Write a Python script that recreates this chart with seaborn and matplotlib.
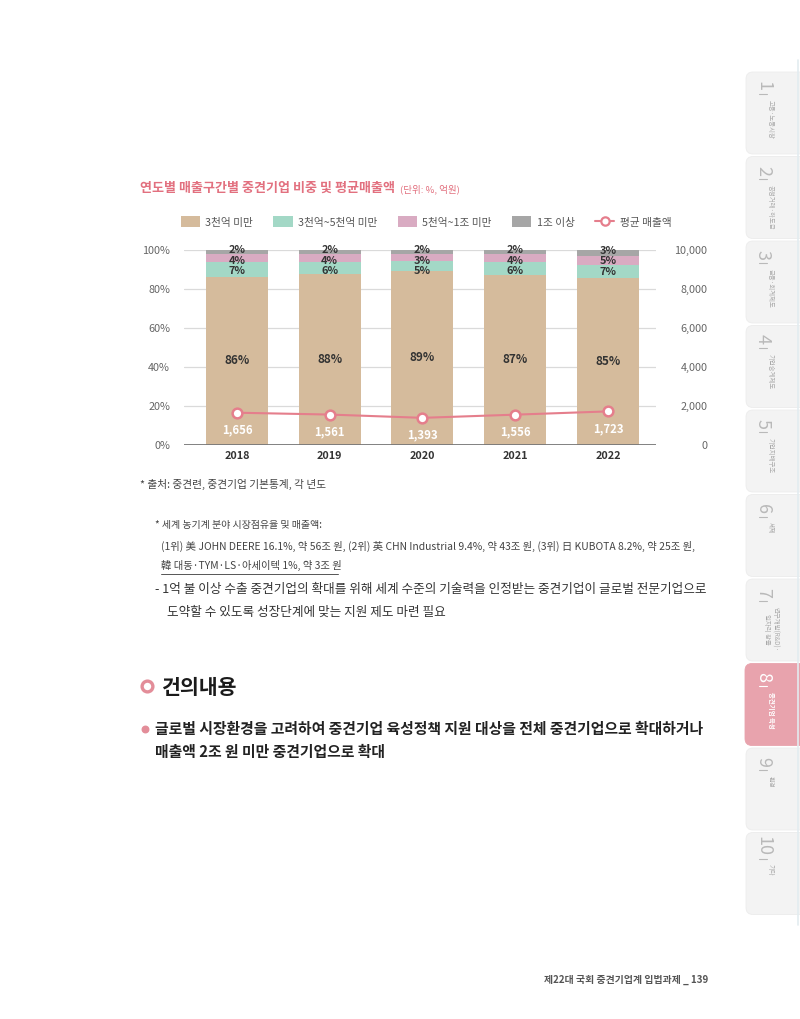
import numpy as np
import matplotlib
matplotlib.use("Agg")
import matplotlib.pyplot as plt
from matplotlib.patches import Patch, FancyBboxPatch
from matplotlib.lines import Line2D
import seaborn as sns

sns.set_style("white")
plt.rcParams["font.family"] = ["Noto Sans CJK KR", "DejaVu Sans"]

# %% data
years = ["2018", "2019", "2020", "2021", "2022"]
under_300 = [86.4, 87.9, 89.3, 87.3, 85.4]      # 3천억 미만
from_300_500 = [7.2, 6.2, 5.2, 6.4, 6.9]        # 3천억~5천억 미만
from_500_1000 = [4.3, 3.9, 3.4, 4.1, 4.8]       # 5천억~1조 미만
over_1000 = [2.1, 2.0, 2.1, 2.2, 2.9]           # 1조 이상
avg_sales = [1656, 1561, 1393, 1556, 1723]      # 평균 매출액 (억원)

series_names = ["3천억 미만", "3천억~5천억 미만", "5천억~1조 미만", "1조 이상"]
line_name = "평균 매출액"
pct_ticks = [0, 20, 40, 60, 80, 100]
sales_ticks = [0, 2000, 4000, 6000, 8000, 10000]

tabs = ["1", "2", "3", "4", "5", "6", "7", "8", "9", "10"]
tab_labels = ["고용·노동시장", "공정거래·하도급", "금융·회계제도", "기업승계제도", "기업지배구조",
              "세제", "연구개발(R&D)·\n일자리 창출", "중견기업 육성", "환경", "기타"]

# %% colours
c_tan = "#d5bb9c"
c_teal = "#a3d8c6"
c_pink = "#d9abc2"
c_grey = "#a6a6a6"
c_line = "#e57e8c"
c_title = "#e2707f"

W, H = 800, 1019
fig = plt.figure(figsize=(W / 100, H / 100), dpi=100)

# page layer in pixel coordinates
bg = fig.add_axes([0, 0, 1, 1], zorder=0)
bg.set_xlim(0, W)
bg.set_ylim(H, 0)
bg.axis("off")

# side tabs
for i, (num, lab) in enumerate(zip(tabs, tab_labels)):
    top = 72 + 84.5 * i
    active = num == "8"
    face = "#e8a3ad" if active else "#f3f3f3"
    bg.add_patch(FancyBboxPatch((746 if not active else 745, top), 70, 82,
                                boxstyle="round,pad=0,rounding_size=7",
                                fc=face, ec="#ececec" if not active else face, lw=0.6))
    tc = "white" if active else "#b9b9b9"
    bg.text(763, top + 14, num, rotation=-90, ha="center", va="center",
            fontsize=13, color=tc, fontweight="light")
    bg.plot([759, 767], [top + 22 + 4 * (len(num) - 1)] * 2, color=tc, lw=0.8)
    bg.text(771, top + 28 + 4 * (len(num) - 1), lab, rotation=-90, ha="center", va="top",
            fontsize=4.6, color="white" if active else "#a9a9a9",
            fontweight="bold" if active else "normal", linespacing=1.1)
bg.plot([797.5, 797.5], [60, 925], color="#e3ecf0", lw=1.2)

# title
bg.text(140, 188, "연도별 매출구간별 중견기업 비중 및 평균매출액", fontsize=9.4,
        fontweight="bold", color=c_title, va="center")
bg.text(400, 189, "(단위: %, 억원)", fontsize=6.9, color=c_title, va="center")

# %% chart
ax = fig.add_axes([184 / W, 1 - 445 / H, (656 - 184) / W, 195 / H], zorder=2)
ax.patch.set_alpha(0)
pos = np.arange(len(years))

layers = [under_300, from_300_500, from_500_1000, over_1000]
colors = [c_tan, c_teal, c_pink, c_grey]
cum = np.cumsum(np.array(layers), axis=0)
for k in range(3, -1, -1):
    sns.barplot(x=years, y=cum[k], color=colors[k], saturation=1, width=0.668,
                linewidth=0, edgecolor="none", ax=ax, zorder=2)

ax.set_xlim(-0.571, 4.518)
ax.set_ylim(0, 100)
ax.set_yticks(pct_ticks)
ax.set_yticklabels([f"{t}%" for t in pct_ticks])
for t in pct_ticks[1:]:
    ax.axhline(t, color="#dadada", lw=0.9, zorder=0)
ax.axhline(0, color="#777777", lw=1.3, zorder=3)
for s in ax.spines.values():
    s.set_visible(False)
ax.tick_params(axis="y", length=0, pad=10, labelsize=7.8, labelcolor="#666666")
ax.tick_params(axis="x", length=0, pad=4, labelsize=7.8, labelcolor="#333333")
for lbl in ax.get_xticklabels():
    lbl.set_fontweight("bold")
ax.set_xlabel("")
ax.set_ylabel("")

# segment labels: small ones kept at least ~10px apart, as in the print
gap = 5.4  # in % units (~10.5 px)
for i in pos:
    ax.text(i, under_300[i] / 2, f"{round(under_300[i])}%", ha="center", va="center",
            fontsize=8.5, fontweight="bold", color="#333333", zorder=5)
    prev = None
    for k in (3, 2, 1):
        mid = cum[k][i] - layers[k][i] / 2
        y = mid + 1 if prev is None else min(mid, prev - gap)
        prev = y
        ax.text(i, y, f"{round(layers[k][i])}%", ha="center", va="center",
                fontsize=7.9, fontweight="bold", color="#333333", zorder=5)

ax2 = ax.twinx()
sns.lineplot(x=pos, y=avg_sales, ax=ax2, color=c_line, lw=1.5, marker="o",
             markersize=7, markerfacecolor="white", markeredgecolor=c_line,
             markeredgewidth=1.8, zorder=6)
ax2.set_ylim(0, 10000)
ax2.set_yticks(sales_ticks)
ax2.set_yticklabels([f"{t:,}" for t in sales_ticks])
for lbl in ax2.get_yticklabels():
    lbl.set_horizontalalignment("right")
ax2.tick_params(axis="y", length=0, pad=37, labelsize=7.8, labelcolor="#666666")
for s in ax2.spines.values():
    s.set_visible(False)
ax2.set_ylabel("")
for i, v in zip(pos, avg_sales):
    ax2.annotate(f"{v:,}", (i, v), xytext=(0, -12.5), textcoords="offset points",
                 ha="center", va="center", fontsize=8.2, fontweight="bold", color="white")

handles = [Patch(facecolor=c, edgecolor="none", label=n) for c, n in zip(colors, series_names)]
handles.append(Line2D([0], [0], color=c_line, lw=1.5, marker="o", markersize=6,
                      markerfacecolor="white", markeredgecolor=c_line,
                      markeredgewidth=1.6, label=line_name))
fig.legend(handles=handles, loc="center", bbox_to_anchor=(426 / W, 1 - 222 / H), ncol=5,
           frameon=False, fontsize=7.7, labelcolor="#555555", handlelength=1.8,
           handleheight=1.2, handletextpad=0.5, columnspacing=1.9)

# %% page text
bg.text(140, 484, "* 출처: 중견련, 중견기업 기본통계, 각 년도", fontsize=7.7, color="#444444", va="center")
bg.text(155, 525, "* 세계 농기계 분야 시장점유율 및 매출액:", fontsize=7.2, color="#444444", va="center")
bg.text(161, 546, "(1위) 美 JOHN DEERE 16.1%, 약 56조 원, (2위) 英 CHN Industrial 9.4%, 약 43조 원, "
        "(3위) 日 KUBOTA 8.2%, 약 25조 원,", fontsize=7.45, color="#444444", va="center")
bg.text(161, 565, "韓 대동·TYM·LS·아세이텍 1%, 약 3조 원", fontsize=7.45, color="#444444", va="center")
bg.plot([161, 338], [574, 574], color="#555555", lw=0.7)
bg.text(155, 589, "- 1억 불 이상 수출 중견기업의 확대를 위해 세계 수준의 기술력을 인정받는 중견기업이 글로벌 전문기업으로",
        fontsize=9.1, color="#333333", va="center")
bg.text(167, 612, "도약할 수 있도록 성장단계에 맞는 지원 제도 마련 필요", fontsize=9.1,
        color="#333333", va="center")

bg.scatter([147], [686], s=60, facecolor="white", edgecolor="#e38d99", linewidth=2.4)
bg.text(162, 687, "건의내용", fontsize=14.8, fontweight="black", color="#1a1a1a", va="center")

bg.scatter([145], [729], s=22, color="#e38d99")
bg.text(155, 729, "글로벌 시장환경을 고려하여 중견기업 육성정책 지원 대상을 전체 중견기업으로 확대하거나",
        fontsize=10.7, fontweight="bold", color="#222222", va="center")
bg.text(155, 752, "매출액 2조 원 미만 중견기업으로 확대", fontsize=10.7, fontweight="bold",
        color="#222222", va="center")

bg.text(708, 980, "제22대 국회 중견기업계 입법과제 _ 139", fontsize=7.1, fontweight="bold",
        color="#555555", ha="right", va="center")

fig.savefig("out.png", dpi=100)
